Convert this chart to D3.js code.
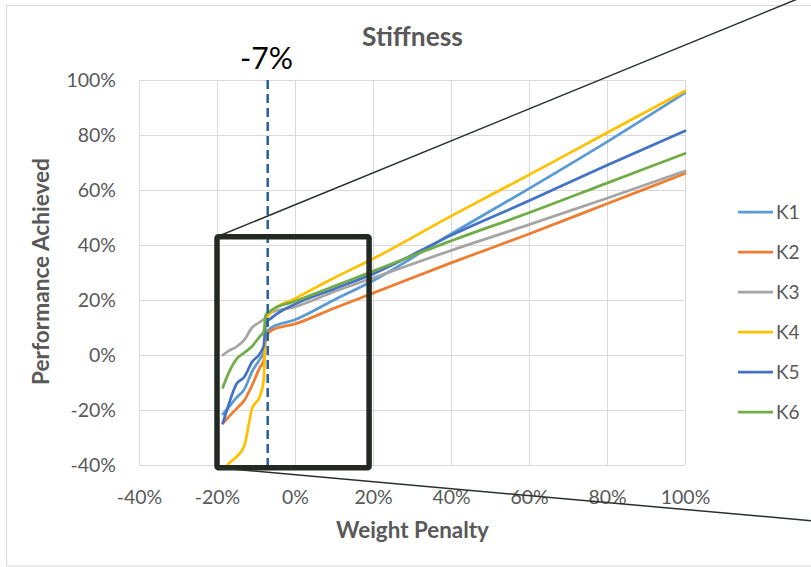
<!DOCTYPE html>
<html><head><meta charset="utf-8">
<script src="https://cdn.jsdelivr.net/npm/d3@7/dist/d3.min.js"></script>
<style>
html,body{margin:0;padding:0;background:#fff;}
svg{display:block;font-family:Lato, "Open Sans", sans-serif;}
</style></head>
<body>
<svg id="c" width="811" height="567"></svg>
<script>
// ---------- data ----------
const xValues = [-18.5, -17, -15, -13, -11, -9, -8, -7.5, -6, 0, 10, 20, 40, 60, 80, 100];
const seriesNames = ["K1", "K2", "K3", "K4", "K5", "K6"];
const K1 = [-21.5, -19, -15.5, -12.5, -6, -1.5, 1, 7.5, 10, 12.8, 20, 27, 44, 60.5, 77.5, 95.3];
const K2 = [-24.8, -22.5, -19.5, -16.5, -11, -4.5, -2, 6.5, 9, 11.3, 17, 22.5, 33.5, 44, 55, 66];
const K3 = [0, 1.5, 3, 5.5, 10, 12, 13, 13.8, 15.5, 17.5, 23, 28, 38, 47.4, 57, 66.9];
const K4 = [-42, -39.5, -37, -33, -19.5, -15, -9, 12.5, 15.8, 20.5, 28, 35, 50.5, 65.5, 80.8, 96];
const K5 = [-24.8, -18, -10.5, -8, -2.5, 0.5, 3.5, 11.5, 13.5, 18.5, 24, 29.5, 43.5, 56.1, 69, 81.5];
const K6 = [-11.8, -6.5, -1.5, 0.8, 3.2, 6.8, 8.5, 14.5, 16.3, 19.5, 25, 30.5, 41.5, 51.7, 62.5, 73.3];
const seriesValues = [K1, K2, K3, K4, K5, K6];
const xTicks = [-40, -20, 0, 20, 40, 60, 80, 100];
const yTicks = [-40, -20, 0, 20, 40, 60, 80, 100];
const markerX = -7;                  // dashed vertical marker
const markerLabel = "-7%";
const zoomBox = {x0: -20, x1: 19, y0: -41, y1: 43}; // highlighted region (data units)
const titleText = "Stiffness";
const xTitle = "Weight Penalty";
const yTitle = "Performance Achieved";

// ---------- styles ----------
const colors = ["#5B9BD5", "#ED7D31", "#A5A5A5", "#FFC000", "#4472C4", "#70AD47"];
const textCol = "#595959";
const gridCol = "#d9d9d9";

const svg = d3.select("#c");
const x = d3.scaleLinear().domain([-40, 100]).range([139, 685]);
const y = d3.scaleLinear().domain([-40, 100]).range([465, 80]);

// chart border
svg.append("rect").attr("x", 6.5).attr("y", 5.5).attr("width", 830).attr("height", 560.5)
  .attr("fill", "#fff").attr("stroke", gridCol).attr("stroke-width", 1);

// gridlines + y axis
const gy = svg.append("g").attr("transform", `translate(${x(-40)},0)`)
  .call(d3.axisLeft(y).tickValues(yTicks).tickSize(-(x(100) - x(-40))).tickPadding(23).tickFormat(d => d + "%"));
gy.select(".domain").remove();
gy.selectAll("line").attr("stroke", gridCol).attr("stroke-width", 1);
gy.selectAll("text").attr("fill", textCol).style("font-size", "19.5px").style("font-family", "Lato");

const gx = svg.append("g").attr("transform", `translate(0,${y(-40)})`)
  .call(d3.axisBottom(x).tickValues(xTicks).tickSize(-(y(-40) - y(100))).tickFormat(d => d + "%"));
gx.select(".domain").remove();
gx.selectAll("line").attr("stroke", gridCol).attr("stroke-width", 1);
gx.selectAll("text").attr("fill", textCol).style("font-size", "19.5px").style("font-family", "Lato")
  .attr("y", 32).attr("dy", "0.35em");

// clip
svg.append("clipPath").attr("id", "plotclip").append("rect")
  .attr("x", x(-40)).attr("y", y(100) - 2).attr("width", x(100) - x(-40) + 2).attr("height", y(-40) - y(100) + 2);

const line = d3.line().x(d => x(d[0])).y(d => y(d[1])).curve(d3.curveMonotoneX);
const gl = svg.append("g").attr("clip-path", "url(#plotclip)");
seriesValues.forEach((vals, i) => {
  gl.append("path").datum(xValues.map((xv, j) => [xv, vals[j]]))
    .attr("d", line).attr("fill", "none").attr("stroke", colors[i])
    .attr("stroke-width", 2.75).attr("stroke-linejoin", "round").attr("stroke-linecap", "round");
});

// dashed marker
svg.append("line").attr("x1", x(markerX)).attr("x2", x(markerX)).attr("y1", y(100)).attr("y2", y(-40))
  .attr("stroke", "#25609a").attr("stroke-width", 2.5).attr("stroke-dasharray", "9,5");

// zoom box
const bx0 = x(zoomBox.x0), bx1 = x(zoomBox.x1), by0 = y(zoomBox.y1), by1 = y(zoomBox.y0);
svg.append("rect").attr("x", bx0).attr("y", by0).attr("width", bx1 - bx0).attr("height", by1 - by0)
  .attr("fill", "none").attr("stroke", "#222923").attr("stroke-width", 5.5).attr("rx", 1.5);
// connector lines
svg.append("line").attr("x1", bx0).attr("y1", by0).attr("x2", 811).attr("y2", by0 - (811 - bx0) * 0.4096)
  .attr("stroke", "#2a312b").attr("stroke-width", 1.5);
svg.append("line").attr("x1", bx0).attr("y1", by1).attr("x2", 811).attr("y2", by1 + (811 - bx0) * 0.0892)
  .attr("stroke", "#2a312b").attr("stroke-width", 1.5);

// fit helper
function fit(sel, w) {
  const l = sel.node().getComputedTextLength();
  const fs = parseFloat(sel.style("font-size"));
  sel.style("font-size", (fs * w / l) + "px");
}

// title
const t = svg.append("text").attr("x", 412.5).attr("y", 46).attr("text-anchor", "middle")
  .attr("fill", textCol).style("font-weight", "bold").style("font-size", "24px").text(titleText);
fit(t, 101);

// marker label
const ml = svg.append("text").attr("x", 266.5).attr("y", 69).attr("text-anchor", "middle")
  .attr("fill", "#000").style("font-size", "28px").text(markerLabel);
fit(ml, 53);

// axis titles
const xt = svg.append("text").attr("x", 412.5).attr("y", 538).attr("text-anchor", "middle")
  .attr("fill", textCol).style("font-weight", "bold").style("font-size", "20px").text(xTitle);
fit(xt, 153);
const yt = svg.append("text").attr("transform", "translate(49,271.5) rotate(-90)").attr("text-anchor", "middle")
  .attr("fill", textCol).style("font-weight", "bold").style("font-size", "20px").text(yTitle);
fit(yt, 227);

// legend
const lg = svg.append("g");
seriesNames.forEach((n, i) => {
  const cy = 212 + i * 40;
  lg.append("line").attr("x1", 738).attr("x2", 773).attr("y1", cy).attr("y2", cy)
    .attr("stroke", colors[i]).attr("stroke-width", 2.75);
  lg.append("text").attr("x", 776).attr("y", cy).attr("dy", "0.35em").attr("fill", textCol)
    .style("font-size", "19px").text(n);
});
</script>
</body></html>
